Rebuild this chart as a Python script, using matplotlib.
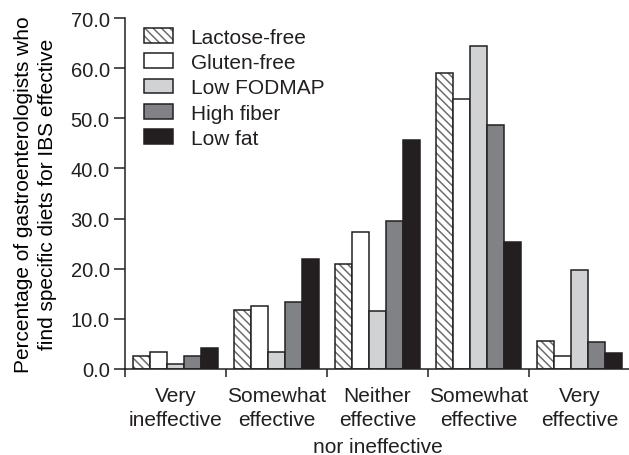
import numpy as np
import matplotlib
matplotlib.use("Agg")
import matplotlib.pyplot as plt

categories = ["Very\nineffective", "Somewhat\neffective", "Neither\neffective\nnor ineffective",
              "Somewhat\neffective", "Very\neffective"]
diets = ["Lactose-free", "Gluten-free", "Low FODMAP", "High fiber", "Low fat"]
lactose_free = [2.5, 11.8, 20.9, 59.1, 5.6]
gluten_free = [3.3, 12.6, 27.3, 53.8, 2.5]
low_fodmap = [0.9, 3.3, 11.5, 64.4, 19.7]
high_fiber = [2.5, 13.3, 29.5, 48.7, 5.3]
low_fat = [4.2, 21.9, 45.6, 25.4, 3.2]

series = [lactose_free, gluten_free, low_fodmap, high_fiber, low_fat]
colours = ["white", "white", "#d1d2d4", "#808285", "#231f20"]
ink = "#231f20"

plt.rcParams["font.family"] = ["Liberation Sans", "DejaVu Sans"]
plt.rcParams["text.color"] = ink
plt.rcParams["xtick.color"] = ink
plt.rcParams["ytick.color"] = ink
plt.rcParams["hatch.linewidth"] = 1.1

fig = plt.figure(figsize=(6.29, 4.56), dpi=100)
ax = fig.add_axes([0.1987, 0.1886, 0.8030, 0.7697])

x = np.arange(len(categories))
w = 0.168
handles = []
for j, (vals, col) in enumerate(zip(series, colours)):
    pos = x + (j - 2) * w
    if j == 0:
        hb = ax.bar(pos, vals, w, color="white", edgecolor="#6e6e6e", linewidth=0, hatch="\\\\\\\\")
        eb = ax.bar(pos, vals, w, fill=False, edgecolor=ink, linewidth=1.1)
        handles.append((hb, eb))
    else:
        b = ax.bar(pos, vals, w, color=col, edgecolor=ink, linewidth=1.1)
        handles.append(b)

ax.set_xlim(-0.5, 4.5)
ax.set_ylim(0, 70)
ax.set_yticks(np.arange(0, 71, 10))
ax.set_yticklabels([f"{v:.1f}" for v in np.arange(0, 71, 10)], fontsize=14.5)
ax.set_xticks(np.arange(-0.5, 5.0, 1.0))
ax.set_xticklabels([])

# two lines as tick labels, any extra line as its own text so boxes don't collide
tick_lines = ["\n".join(c.split("\n")[:2]) for c in categories]
ax.set_xticks(x, minor=True)
ax.set_xticklabels(tick_lines, minor=True, fontsize=15, linespacing=1.36)
for i, c in enumerate(categories):
    extra = c.split("\n")[2:]
    if extra:
        ax.annotate("\n".join(extra), xy=(x[i], 0), xycoords=("data", "axes fraction"),
                    xytext=(0, -55.5), textcoords="offset points",
                    ha="center", va="center", fontsize=15)

ax.tick_params(axis="x", which="major", length=6, width=1.1, direction="out")
ax.tick_params(axis="x", which="minor", length=0, pad=12)
ax.tick_params(axis="y", length=8, width=1.1, direction="out", pad=3)

for s in ["top", "right"]:
    ax.spines[s].set_visible(False)
for s in ["left", "bottom"]:
    ax.spines[s].set_linewidth(1.1)
    ax.spines[s].set_color(ink)

ax.set_ylabel("Percentage of gastroenterologists who\nfind specific diets for IBS effective",
              fontsize=15, labelpad=10, linespacing=1.32)

ax.legend(handles, diets, loc="upper left", bbox_to_anchor=(0.037, 0.972), frameon=False,
          fontsize=15, handlelength=1.4, handleheight=0.72, handletextpad=0.85,
          labelspacing=0.3, borderaxespad=0, borderpad=0)

fig.savefig("out.png", dpi=100)
